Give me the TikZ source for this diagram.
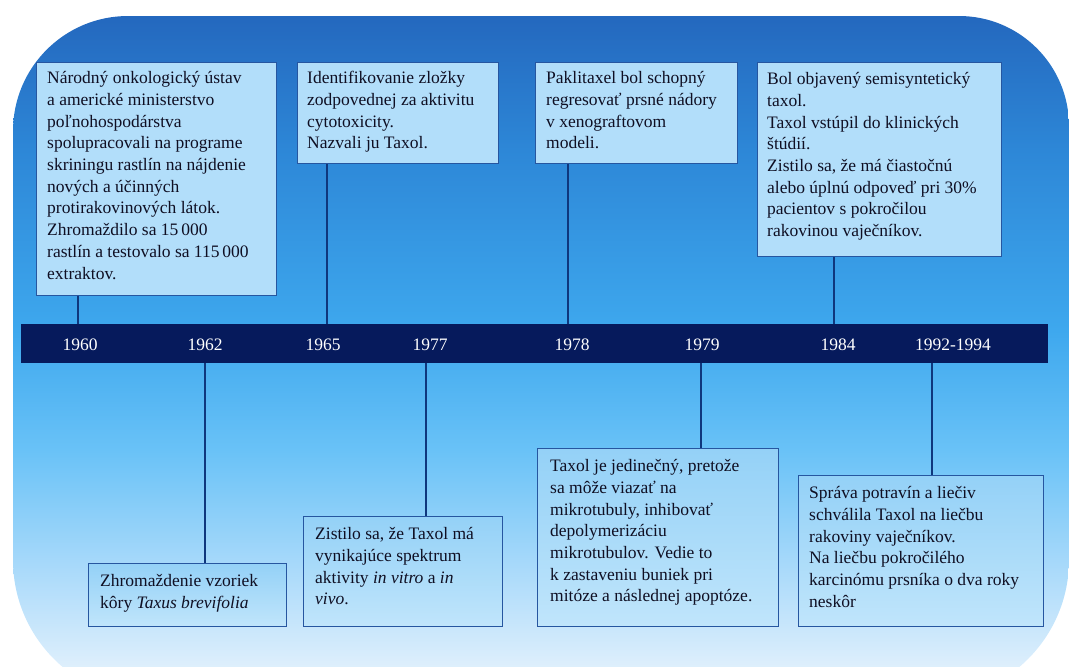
\documentclass[tikz,border=0pt]{standalone}
\usepackage{fontspec}
\setmainfont{Liberation Serif}
\usetikzlibrary{calc}
\definecolor{c0}{RGB}{234,245,253}
\definecolor{c1}{RGB}{222,239,252}
\definecolor{c2}{RGB}{165,216,250}
\definecolor{c3}{RGB}{105,194,247}
\definecolor{c4}{RGB}{62,168,238}
\definecolor{c5}{RGB}{45,135,215}
\definecolor{c6}{RGB}{36,104,190}
\definecolor{barc}{RGB}{6,26,92}
\definecolor{boxfill}{RGB}{178,222,250}
\definecolor{boxtop}{RGB}{148,209,247}
\definecolor{boxbot}{RGB}{192,229,251}
\definecolor{boxborder}{RGB}{38,86,160}
\definecolor{connc}{RGB}{15,55,125}
\definecolor{textc}{RGB}{15,15,35}
\pgfdeclareverticalshading{bgshade}{100bp}{color(0bp)=(c0); color(25bp)=(c0); color(27.4bp)=(c1); color(35.2bp)=(c2); color(43.3bp)=(c3); color(52bp)=(c4); color(65.2bp)=(c5); color(75bp)=(c6); color(100bp)=(c6)}
\newcommand{\fs}{\rule{0pt}{17pt}}
\tikzset{
  boxup/.style={draw=boxborder, line width=1.4pt, fill=boxfill, inner sep=0pt, anchor=north west},
  boxdown/.style={draw=boxborder, line width=1.4pt, top color=boxtop, bottom color=boxbot, inner sep=0pt, anchor=north west},
  txt/.style={anchor=north west, align=left, inner sep=0pt, text=textc, font=\fontsize{17.5}{21.7}\selectfont},
  year/.style={anchor=base, inner sep=0pt, text=white, font=\fontsize{17.5}{21}\selectfont},
  conn/.style={draw=connc, line width=1.6pt}
}
\begin{document}
\begin{tikzpicture}[x=1pt,y=-1pt]
\useasboundingbox (0,0) rectangle (1069,667);
\clip (0,0) rectangle (1069,667);
% background
\shade[shading=bgshade] (13,400) [rounded corners=115pt] -- (13,16) [rounded corners=110pt] -- (1069,16) [rounded corners=140pt] -- (1069,700) -- (13,700) -- (13,400) -- cycle;
% timeline bar
\node[fill=barc, minimum width=1027pt, minimum height=39pt, anchor=north west, inner sep=0pt] (bar) at (21,324) {};
% years
\node[year] (y1) at (80,350) {1960};
\node[year] (y2) at (205,350) {1962};
\node[year] (y3) at (323,350) {1965};
\node[year] (y4) at (430,350) {1977};
\node[year] (y5) at (572,350) {1978};
\node[year] (y6) at (702,350) {1979};
\node[year] (y7) at (838,350) {1984};
\node[year] (y8) at (953,350) {1992-1994};
% boxes
\node[boxup, minimum width=240pt, minimum height=233pt] (b1) at (36,62) {};
\node[boxup, minimum width=201pt, minimum height=101pt] (b2) at (297,62) {};
\node[boxup, minimum width=202pt, minimum height=101pt] (b3) at (535,62) {};
\node[boxup, minimum width=244pt, minimum height=194pt] (b4) at (757,62) {};
\node[boxdown, minimum width=198pt, minimum height=63pt] (b5) at (88,563) {};
\node[boxdown, minimum width=199pt, minimum height=110pt] (b6) at (303,516) {};
\node[boxdown, minimum width=241pt, minimum height=178pt] (b7) at (537,448) {};
\node[boxdown, minimum width=245pt, minimum height=151pt] (b8) at (798,475) {};
% connector x positions
\coordinate (k1) at (78,0);
\coordinate (k2) at (205,0);
\coordinate (k3) at (327,0);
\coordinate (k4) at (426,0);
\coordinate (k5) at (568,0);
\coordinate (k6) at (701,0);
\coordinate (k7) at (834,0);
\coordinate (k8) at (932,0);
\draw[conn] (k1 |- b1.south) -- (k1 |- bar.north);
\draw[conn] (k3 |- b2.south) -- (k3 |- bar.north);
\draw[conn] (k5 |- b3.south) -- (k5 |- bar.north);
\draw[conn] (k7 |- b4.south) -- (k7 |- bar.north);
\draw[conn] (k2 |- bar.south) -- (k2 |- b5.north);
\draw[conn] (k4 |- bar.south) -- (k4 |- b6.north);
\draw[conn] (k6 |- bar.south) -- (k6 |- b7.north);
\draw[conn] (k8 |- bar.south) -- (k8 |- b8.north);
% texts (first baseline = top + offset; strut of 17pt)
\node[txt] (t1) at ($(b1.north west)+(11,4.5)$) {\fs Národný onkologický ústav\\a americké ministerstvo\\poľnohospodárstva\\spolupracovali na programe\\skriningu rastlín na nájdenie\\nových a účinných\\protirakovinových látok.\\Zhromaždilo sa 15\,000\\rastlín a testovalo sa 115\,000\\extraktov.};
\node[txt] (t2) at ($(b2.north west)+(10,4.5)$) {\fs Identifikovanie zložky\\zodpovednej za aktivitu\\cytotoxicity.\\Nazvali ju Taxol.};
\node[txt] (t3) at ($(b3.north west)+(11,4.5)$) {\fs Paklitaxel bol schopný\\regresovať prsné nádory\\v xenograftovom\\modeli.};
\node[txt] (t4) at ($(b4.north west)+(10,5.5)$) {\fs Bol objavený semisyntetický\\taxol.\\Taxol vstúpil do klinických\\štúdií.\\Zistilo sa, že má čiastočnú\\alebo úplnú odpoveď pri 30\%\\pacientov s pokročilou\\rakovinou vaječníkov.};
\node[txt] (t5) at ($(b5.north west)+(12,6.5)$) {\fs Zhromaždenie vzoriek\\kôry \textit{Taxus brevifolia}};
\node[txt] (t6) at ($(b6.north west)+(12,6.5)$) {\fs Zistilo sa, že Taxol má\\vynikajúce spektrum\\aktivity \textit{in vitro} a \textit{in}\\\textit{vivo}.};
\node[txt] (t7) at ($(b7.north west)+(13,6.5)$) {\fs Taxol je jedinečný, pretože\\sa môže viazať na\\mikrotubuly, inhibovať\\depolymerizáciu\\mikrotubulov. Vedie to\\k zastaveniu buniek pri\\mitóze a následnej apoptóze.};
\node[txt] (t8) at ($(b8.north west)+(11,6.5)$) {\fs Správa potravín a liečiv\\schválila Taxol na liečbu\\rakoviny vaječníkov.\\Na liečbu pokročilého\\karcinómu prsníka o dva roky\\neskôr};
\end{tikzpicture}
\end{document}
